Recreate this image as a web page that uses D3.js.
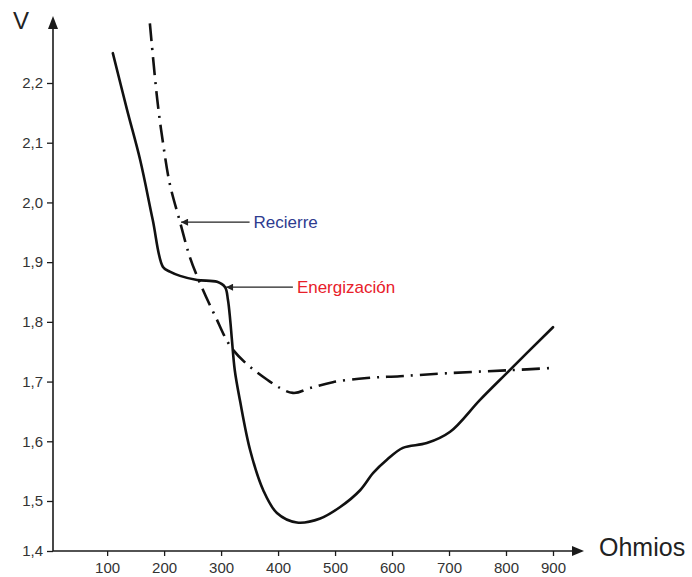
<!DOCTYPE html>
<html>
<head>
<meta charset="utf-8">
<script src="https://cdn.jsdelivr.net/npm/d3@7"></script>
<style>
  body { margin: 0; background: #fff; }
  svg { font-family: "Liberation Sans", Arial, sans-serif; }
</style>
</head>
<body>
<div id="chart"></div>
<script>
// curve values (ohms, volts)
var energOhm = [110, 135, 158, 180, 198, 210, 228, 258, 293, 307, 312, 316, 319, 324, 333, 351, 374, 398, 433, 474, 509, 544, 567, 591, 619, 661, 702, 754, 800, 900];
var energV   = [2.250, 2.155, 2.071, 1.971, 1.892, 1.884, 1.877, 1.870, 1.867, 1.858, 1.837, 1.803, 1.770, 1.719, 1.669, 1.585, 1.518, 1.476, 1.457, 1.465, 1.488, 1.518, 1.547, 1.569, 1.589, 1.597, 1.616, 1.669, 1.713, 1.791];

var recOhm = [175, 188, 198, 210, 228, 245, 263, 289, 321, 381, 426, 456, 496, 556, 614, 697, 808, 904];
var recV   = [2.300, 2.172, 2.100, 2.031, 1.967, 1.909, 1.865, 1.811, 1.753, 1.703, 1.681, 1.689, 1.699, 1.706, 1.709, 1.714, 1.719, 1.723];

var xTicks = [100, 200, 300, 400, 500, 600, 700, 800, 900];
var yTicks = [1.4, 1.5, 1.6, 1.7, 1.8, 1.9, 2.0, 2.1, 2.2];

// annotations: label, arrow tip on curve, label x
var labels   = ["Recierre", "Energización"];
var labelCol = ["#2e3b8f", "#e8202a"];
var tipOhm   = [228, 307];
var tipV     = [1.967, 1.858];
var tailOhm  = [350, 426];

var svg = d3.select("#chart").append("svg")
  .attr("width", 692)
  .attr("height", 577);

// the printed axes are slightly uneven, so the scales are piecewise
var x = d3.scaleLinear()
  .domain([5, 800, 900])
  .range([53, 506, 553]);

var y = d3.scaleLinear()
  .domain([1.4, 1.5, 2.2])
  .range([551, 501, 83]);

var ax = "#1a1a1a";

svg.append("defs").append("marker")
  .attr("id", "tip")
  .attr("viewBox", "0 0 10 10")
  .attr("refX", 0).attr("refY", 5)
  .attr("markerWidth", 10).attr("markerHeight", 7)
  .attr("markerUnits", "userSpaceOnUse")
  .attr("orient", "auto")
  .append("path")
  .attr("d", "M0,5 L10,0 L10,10 Z")
  .attr("fill", "#222");

// axes
var gx = svg.append("g")
  .attr("transform", "translate(0," + y(1.4) + ")")
  .call(d3.axisBottom(x).tickValues(xTicks).tickSize(5).tickPadding(6));
var gy = svg.append("g")
  .attr("transform", "translate(" + x(5) + ",0)")
  .call(d3.axisLeft(y).tickValues(yTicks).tickSize(6).tickPadding(4)
        .tickFormat(function(d) { return d3.format(".1f")(d).replace(".", ","); }));

[gx, gy].forEach(function(g) {
  g.select(".domain").remove();
  g.selectAll("line").attr("stroke", ax).attr("stroke-width", 1.3);
  g.selectAll("text").attr("fill", "#333").style("font-size", "15px");
});

// axis lines with arrow heads
svg.append("line")
  .attr("x1", x(5)).attr("y1", y(1.4))
  .attr("x2", 573).attr("y2", y(1.4))
  .attr("stroke", ax).attr("stroke-width", 1.6);
svg.append("path")
  .attr("d", "M584," + y(1.4) + " L572," + (y(1.4) - 5) + " L572," + (y(1.4) + 5) + " Z")
  .attr("fill", ax);

svg.append("line")
  .attr("x1", x(5)).attr("y1", y(1.4))
  .attr("x2", x(5)).attr("y2", 28)
  .attr("stroke", ax).attr("stroke-width", 1.6);
svg.append("path")
  .attr("d", "M" + x(5) + ",16 L" + (x(5) - 5) + ",29 L" + (x(5) + 5) + ",29 Z")
  .attr("fill", ax);

svg.append("text")
  .attr("x", 13).attr("y", 29)
  .style("font-size", "24px")
  .attr("fill", "#222")
  .text("V");

svg.append("text")
  .attr("x", 599).attr("y", 556)
  .style("font-size", "25px")
  .attr("fill", "#222")
  .text("Ohmios");

// curves
var line = d3.line()
  .x(function(d) { return x(d[0]); })
  .y(function(d) { return y(d[1]); })
  .curve(d3.curveCatmullRom.alpha(0.5));

svg.append("path")
  .datum(d3.zip(energOhm, energV))
  .attr("fill", "none")
  .attr("stroke", "#111")
  .attr("stroke-width", 2.6)
  .attr("stroke-linejoin", "round")
  .attr("stroke-linecap", "round")
  .attr("d", line);

svg.append("path")
  .datum(d3.zip(recOhm, recV))
  .attr("fill", "none")
  .attr("stroke", "#111")
  .attr("stroke-width", 2.6)
  .attr("stroke-dasharray", "18,7,2,7")
  .attr("d", line);

// annotation arrows
labels.forEach(function(lab, i) {
  var ty = y(tipV[i]);
  svg.append("line")
    .attr("x1", x(tipOhm[i]) + 1).attr("y1", ty)
    .attr("x2", x(tailOhm[i])).attr("y2", ty)
    .attr("stroke", "#222").attr("stroke-width", 1.3)
    .attr("marker-start", "url(#tip)");
  svg.append("text")
    .attr("x", x(tailOhm[i]) + 4).attr("y", ty)
    .attr("dy", "0.35em")
    .attr("fill", labelCol[i])
    .style("font-size", "17px")
    .text(lab);
});
</script>
</body>
</html>
